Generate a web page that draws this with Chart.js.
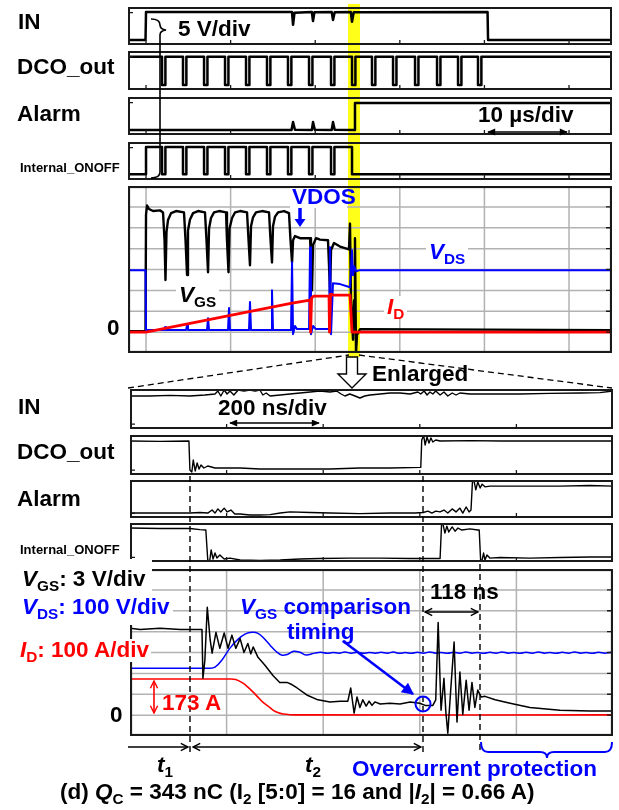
<!DOCTYPE html>
<html><head><meta charset="utf-8">
<script src="https://cdn.jsdelivr.net/npm/chart.js@4.4.1/dist/chart.umd.min.js"></script>
<style>
html,body{margin:0;padding:0;background:#fff;}
#page{position:relative;width:619px;height:810px;overflow:hidden;background:#fff;font-family:"Liberation Sans",Arial,Helvetica,sans-serif;}
#page canvas{position:absolute;z-index:1;}
.t{position:absolute;white-space:nowrap;line-height:1;font-weight:bold;font-size:22.5px;z-index:3;color:#000;}
.t i{font-style:italic;}
.t sub{font-size:0.68em;position:relative;top:0.3em;vertical-align:baseline;line-height:0;}
.bg{background:#fff;}
.blue{color:#0000ff;} .red{color:#ff0000;}
</style></head>
<body><div id="page">
<div style="position:absolute;left:348px;top:4px;width:12px;height:353px;background:#ffff1a;z-index:0"></div>
<div style="position:absolute;left:0;top:559px;width:152px;height:66px;background:#fff;z-index:2"></div>
<div style="position:absolute;left:290px;top:188px;width:57px;height:20px;background:#fff;z-index:2"></div>

<div class="t" style="left:18px;top:11px">IN</div>
<div class="t" style="left:17px;top:56px">DCO_out</div>
<div class="t" style="left:17px;top:103px">Alarm</div>
<div class="t" style="left:20px;top:161px;font-size:13px">Internal_ONOFF</div>
<div class="t" style="left:178px;top:18px">5 V/div</div>
<div class="t" style="left:478px;top:104px">10 µs/div</div>
<div class="t blue" style="left:292px;top:186px">VDOS</div>
<div class="t bg" style="left:176px;top:284px;padding:0 3px"><i>V</i><sub>GS</sub></div>
<div class="t bg blue" style="left:426px;top:241px;padding:0 3px"><i>V</i><sub>DS</sub></div>
<div class="t bg red" style="left:384px;top:296px;padding:0 3px"><i>I</i><sub>D</sub></div>
<div class="t" style="left:107px;top:317px">0</div>
<div class="t" style="left:372px;top:363px">Enlarged</div>

<div class="t" style="left:18px;top:396px">IN</div>
<div class="t" style="left:17px;top:441px">DCO_out</div>
<div class="t" style="left:17px;top:488px">Alarm</div>
<div class="t" style="left:20px;top:543px;font-size:13px">Internal_ONOFF</div>
<div class="t bg" style="left:218px;top:397px">200 ns/div</div>

<div class="t bg" style="left:22px;top:568px;padding-right:3px"><i>V</i><sub>GS</sub>: 3 V/div</div>
<div class="t bg blue" style="left:22px;top:596px;padding-right:3px"><i>V</i><sub>DS</sub>: 100 V/div</div>
<div class="t bg red" style="left:20px;top:639px;padding-right:2px"><i>I</i><sub>D</sub>: 100 A/div</div>
<div class="t" style="left:110px;top:704px">0</div>
<div class="t red" style="left:162px;top:692px">173 A</div>
<div class="t blue" style="left:240px;top:596px"><i>V</i><sub>GS</sub> comparison</div>
<div class="t blue" style="left:287px;top:621px">timing</div>
<div class="t" style="left:430px;top:581px">118 ns</div>
<div class="t" style="left:157px;top:754px"><i>t</i><sub>1</sub></div>
<div class="t" style="left:305px;top:754px"><i>t</i><sub>2</sub></div>
<div class="t blue" style="left:352px;top:758px">Overcurrent protection</div>
<div class="t" style="left:60px;top:781px">(d) <i>Q</i><sub>C</sub> = 343 nC (I<sub>2</sub> [5:0] = 16 and |<i>I</i><sub>2</sub>| = 0.66 A)</div>

<svg width="619" height="810" style="position:absolute;left:0;top:0;z-index:2" xmlns="http://www.w3.org/2000/svg">
<defs>
<marker id="fa" viewBox="0 0 10 10" refX="9" refY="5" markerWidth="9" markerHeight="8" markerUnits="userSpaceOnUse" orient="auto-start-reverse"><path d="M0,0.5 L10,5 L0,9.5 z" fill="#000"/></marker>
<marker id="ch" viewBox="0 0 10 10" refX="9" refY="5" markerWidth="9" markerHeight="10" markerUnits="userSpaceOnUse" orient="auto-start-reverse"><path d="M1,1 L9,5 L1,9" fill="none" stroke="#000" stroke-width="1.6"/></marker>
<marker id="chr" viewBox="0 0 10 10" refX="9" refY="5" markerWidth="9" markerHeight="10" markerUnits="userSpaceOnUse" orient="auto-start-reverse"><path d="M1,1 L9,5 L1,9" fill="none" stroke="#ff0000" stroke-width="1.6"/></marker>
<marker id="fb" viewBox="0 0 10 10" refX="9" refY="5" markerWidth="14" markerHeight="12" markerUnits="userSpaceOnUse" orient="auto"><path d="M0,0 L10,5 L0,10 z" fill="#0000ff"/></marker>
</defs>
<path d="M151,19 C157,19 160,21 160,25 C160,28 162,29.5 166,30 C162,30.5 160,32 160,35 L160,172 C160,176 157,178 151,178" fill="none" stroke="#000" stroke-width="1.6"/>
<line x1="488" y1="132" x2="567" y2="132" stroke="#000" stroke-width="1.6" marker-start="url(#fa)" marker-end="url(#fa)"/>
<line x1="300" y1="208" x2="300" y2="220" stroke="#0000ff" stroke-width="3.5"/>
<path d="M294.5,219 L305.5,219 L300,227 z" fill="#0000ff"/>
<line x1="128" y1="388" x2="349" y2="355" stroke="#000" stroke-width="1.3" stroke-dasharray="6,4"/>
<line x1="359" y1="355" x2="612" y2="388" stroke="#000" stroke-width="1.3" stroke-dasharray="6,4"/>
<path d="M346.5,357 L357.5,357 L357.5,374 L366,374 L352,388 L338,374 L346.5,374 z" fill="#fff" stroke="#000" stroke-width="1.4"/>
<line x1="230" y1="423" x2="319" y2="423" stroke="#000" stroke-width="1.6" marker-start="url(#fa)" marker-end="url(#fa)"/>
<line x1="190" y1="476" x2="190" y2="752" stroke="#000" stroke-width="1.4" stroke-dasharray="6,4"/>
<line x1="423" y1="476" x2="423" y2="752" stroke="#000" stroke-width="1.4" stroke-dasharray="6,4"/>
<line x1="480" y1="564" x2="480" y2="752" stroke="#000" stroke-width="1.4" stroke-dasharray="6,4"/>
<line x1="425" y1="612" x2="478" y2="612" stroke="#000" stroke-width="1.4" marker-start="url(#ch)" marker-end="url(#ch)"/>
<line x1="128" y1="747" x2="188" y2="747" stroke="#000" stroke-width="1.4" marker-end="url(#ch)"/>
<line x1="193" y1="747" x2="421" y2="747" stroke="#000" stroke-width="1.4" marker-start="url(#ch)" marker-end="url(#ch)"/>
<line x1="154" y1="681" x2="154" y2="713" stroke="#ff0000" stroke-width="1.6" marker-start="url(#chr)" marker-end="url(#chr)"/>
<line x1="343" y1="641" x2="413" y2="694" stroke="#0000ff" stroke-width="2.6" marker-end="url(#fb)"/>
<circle cx="423" cy="704" r="7.5" fill="none" stroke="#0000ff" stroke-width="2"/>
<path d="M481,742 Q481,752 488,752 L540,752 Q547,752 547,758 Q547,752 554,752 L605,752 Q612,752 612,742" fill="none" stroke="#0000ff" stroke-width="2"/>
</svg>
</div>
<script>
// ---------- time axes ----------
const topRangeUs = [-2.13, 55.08];      // 10 µs/div
const topGridUs = [0, 10, 20, 30, 40, 50];
const lowRangeNs = [0, 1000];           // 200 ns/div
const lowGridNs = [200, 400, 600, 800];
const analogGridV = [0, 3, 6, 9, 12, 15, 18]; // VGS 3 V/div
const vgsRange = [-3, 21];
const ampRange = [-100, 700];            // VDS 100 V/div, ID 100 A/div
const levelRange = [0, 1];

// ---------- upper (10 µs/div) logic traces ----------
const topIN = [[-2.13,.13],[-0.06,.13],[0,.87],[17.25,.87],[17.38,.53],[17.55,.85],[19.6,.87],[19.74,.63],[19.9,.86],[21.95,.87],[22.10,.66],[22.3,.86],[24.2,.87],[24.35,.61],[24.55,.86],[40.37,.87],[40.43,.13],[55.08,.13]];
const dcoFallUs = [1.89,4.37,6.86,9.34,11.82,14.30,16.78,19.27,21.87,24.35,26.71,29.20,31.80,34.40,36.88,39.24];
const dcoLowUs = 0.4;
const dcoLevels = {hi:.85, lo:.13};
const ionoffLevels = {hi:.87, lo:.15};
const ionoffRiseUs = 0, ionoffOffUs = 24.35;
const topALARM = [[-2.13,.13],[17.2,.13],[17.38,.34],[17.6,.14],[19.6,.13],[19.74,.34],[19.95,.14],[21.95,.13],[22.10,.34],[22.3,.14],[24.65,.13],[24.70,.84],[55.08,.84]];

// ---------- upper analog traces (µs ; V / V / A) ----------
const topVGS = [[-2.13,0.14],[-0.06,0.14],[0,16.9],[0.12,18.2],[0.35,17.7],[0.83,17.4],[1.65,17.5],[2.01,17.2],[2.19,13.2],[2.30,7.5],[2.42,14.4],[2.60,16.1],[2.96,17.1],[3.55,17.4],[4.49,17.2],[4.67,13.2],[4.85,8.2],[4.96,14.6],[5.20,16.2],[5.56,17.1],[6.15,17.4],[6.97,17.2],[7.15,13.2],[7.33,8.6],[7.45,14.9],[7.68,16.4],[8.04,17.2],[8.63,17.4],[9.46,17.2],[9.57,13.2],[9.75,8.6],[9.87,14.9],[10.17,16.4],[10.52,17.2],[11.11,17.4],[11.94,17.2],[12.12,13.2],[12.29,9.6],[12.41,15.2],[12.65,16.5],[13.00,17.2],[13.71,17.4],[14.54,17.2],[14.72,13.2],[14.89,10.0],[15.01,15.2],[15.25,16.6],[15.60,17.2],[16.31,17.4],[16.90,17.1],[17.08,13.2],[17.26,10.0],[17.38,13.2],[17.61,13.8],[18.20,13.5],[19.39,13.5],[19.50,10.3],[19.62,6.0],[19.74,12.5],[20.09,13.5],[20.57,13.3],[21.51,13.2],[21.63,9.6],[21.75,5.6],[21.87,11.8],[22.22,12.8],[22.93,12.3],[23.99,11.9],[24.11,15.6],[24.23,4.6],[24.47,-1.1],[24.59,4.6],[24.70,13.5],[24.82,-3.0],[24.94,-0.4],[25.30,0.43],[55.08,0.29]];
const topVDS = [[-2.13,297],[-0.06,297],[0,9.6],[2.13,9.6],[2.25,24],[2.36,9.6],[4.73,9.6],[4.85,33.5],[4.96,9.6],[7.21,9.6],[7.33,67],[7.45,9.6],[9.69,9.6],[9.81,115],[9.93,9.6],[12.17,9.6],[12.29,144],[12.41,9.6],[14.78,9.6],[14.89,201],[15.01,9.6],[17.14,9.6],[17.26,335],[17.38,-9.6],[17.61,29],[17.85,14.4],[19.27,14.4],[19.39,407],[19.50,-9.6],[19.74,29],[20.09,14.4],[21.63,14.4],[21.75,407],[21.87,-9.6],[22.10,234],[22.93,230],[24.11,215],[24.35,392],[24.47,273],[24.59,316],[24.82,292],[25.30,297],[55.08,297]];
const topID = [[-2.13,0],[0,0],[17.26,139],[19.39,153],[19.45,0],[19.57,163],[19.80,172],[21.63,172],[21.69,0],[21.81,182],[22.15,177],[24.11,177],[24.35,0],[55.08,0]];

// ---------- lower (200 ns/div) logic traces ----------
const lowIN = [[0,.825],[41,.825],[83,.84],[124,.825],[155,.85],[176,.875],[182,.95],[188,.825],[195,.975],[201,.875],[207,.95],[215,.85],[224,.975],[236,.95],[248,.975],[259,.95],[269,.975],[275,.85],[282,.9],[290,.825],[311,.85],[331,.875],[352,.9],[373,.925],[393,.95],[414,.925],[428,.95],[437,.875],[445,.825],[455,.875],[466,.825],[476,.775],[486,.825],[497,.85],[518,.875],[538,.9],[559,.9],[580,.875],[596,.925],[602,.875],[609,.95],[615,.85],[621,.925],[627,.875],[633,.95],[642,.85],[650,.925],[658,.825],[667,.9],[675,.85],[683,.9],[704,.875],[745,.875],[807,.875],[869,.89],[932,.9],[973,.91],[1000,.95]];
const lowDCO = [[0,.85],[62,.84],[122,.85],[124,.125],[128,.075],[131,.375],[135,.1],[139,.3],[143,.15],[147,.25],[153,.175],[161,.225],[176,.175],[228,.175],[269,.15],[311,.15],[352,.15],[414,.15],[476,.175],[538,.175],[602,.19],[604,.875],[608,.99],[611,.75],[615,.95],[619,.8],[623,.925],[627,.825],[633,.875],[642,.85],[704,.86],[766,.85],[828,.85],[890,.85],[952,.85],[1000,.85]];
const lowALARM = [[0,.13],[62,.13],[124,.13],[145,.145],[161,.13],[170,.21],[176,.13],[182,.24],[188,.16],[195,.26],[201,.16],[209,.21],[217,.105],[228,.105],[248,.08],[269,.08],[290,.09],[311,.13],[331,.16],[373,.145],[414,.13],[476,.115],[538,.13],[590,.13],[607,.145],[617,.18],[625,.13],[633,.18],[642,.16],[650,.21],[658,.13],[667,.24],[675,.16],[683,.26],[689,.13],[696,.29],[702,.16],[706,.21],[709,.95],[712,.99],[716,.74],[720,.95],[725,.79],[729,.89],[735,.82],[745,.84],[807,.84],[890,.84],[952,.855],[1000,.84]];
const lowIONOFF = [[0,.87],[62,.86],[124,.86],[145,.83],[157,.82],[161,.05],[165,.026],[168,.31],[172,.077],[176,.23],[180,.10],[186,.18],[195,.077],[207,.10],[228,.05],[269,.04],[311,.05],[352,.077],[393,.09],[455,.10],[518,.10],[580,.09],[642,.09],[645,.95],[648,.97],[652,.74],[656,.92],[660,.77],[667,.90],[673,.79],[679,.87],[687,.82],[704,.85],[720,.82],[723,.82],[726,.026],[729,.05],[732,.23],[735,.05],[739,.18],[745,.10],[766,.115],[828,.10],[890,.115],[952,.13],[1000,.13]];

// ---------- lower analog traces (ns ; V / V / A) ----------
const lowVGS = [[0,12.5],[21,12.3],[62,12.5],[104,12.3],[149,12.3],[151,5.3],[155,7.9],[160,15.5],[166,10.8],[170,8.9],[178,11.9],[186,9.6],[195,11.8],[203,9.6],[211,11.5],[219,9.6],[228,11.0],[236,9.0],[244,10.3],[250,8.8],[255,9.8],[265,8.3],[279,7.2],[296,5.7],[310,4.7],[325,4.7],[335,4.4],[346,3.9],[366,2.9],[389,2.2],[414,1.9],[435,2.0],[451,2.0],[457,3.9],[464,0.3],[470,2.6],[476,1.1],[482,2.2],[489,1.3],[495,2.0],[501,1.4],[507,1.9],[518,1.6],[538,1.7],[559,1.6],[580,1.9],[600,1.7],[611,1.4],[627,1.4],[633,2.2],[638,13.3],[644,0.7],[650,5.3],[654,0.4],[658,-2.6],[664,3.6],[671,10.5],[677,-1.0],[683,6.2],[689,0.1],[696,5.0],[702,0.7],[708,4.7],[714,1.1],[720,3.6],[727,2.6],[735,2.7],[756,2.2],[787,1.7],[828,1.1],[890,0.7],[952,0.6],[1000,0.6]];
const lowVDS = [[0,225],[166,225],[176,230],[190,263],[207,321],[224,364],[238,388],[253,397],[265,392],[277,368],[290,335],[302,306],[315,287],[327,292],[339,306],[352,301],[364,288],[383,297],[395,301],[408,296],[420,300],[433,297],[445,302],[458,297],[470,301],[483,296],[495,300],[508,297],[520,301],[533,297],[545,302],[558,296],[570,300],[583,296],[595,301],[608,297],[620,302],[633,297],[645,300],[658,296],[670,301],[683,297],[695,302],[708,297],[720,300],[733,296],[745,301],[758,297],[770,302],[783,297],[795,300],[808,296],[820,301],[833,297],[845,302],[858,297],[870,300],[883,296],[895,301],[908,297],[920,302],[933,297],[945,300],[958,296],[970,301],[983,297],[995,300],[1000,299]];
const lowID = [[0,173],[207,173],[219,171],[234,153],[244,134],[255,110],[265,86],[275,62],[286,43],[296,24],[306,12],[317,5],[331,2],[352,1],[1000,1]];

// ---------- helpers ----------
function pulseTrain(range, riseT, offT, falls, w, lv) {
  const p = [];
  if (riseT > range[0]) p.push([range[0], lv.lo], [riseT, lv.lo], [riseT, lv.hi]);
  else p.push([range[0], lv.hi]);
  for (const f of falls) { if (f >= offT) break; p.push([f, lv.hi], [f, lv.lo], [f + w, lv.lo], [f + w, lv.hi]); }
  if (offT < range[1]) p.push([offT, lv.hi], [offT, lv.lo], [range[1], lv.lo]);
  else p.push([range[1], lv.hi]);
  return p;
}
const xy = a => a.map(p => ({x: p[0], y: p[1]}));
function ds(arr, color, width, axis, tension) {
  return {data: xy(arr), borderColor: color, borderWidth: width, yAxisID: axis || 'y', pointRadius: 0, fill: false, tension: tension || 0, borderJoinStyle: 'round'};
}

const panelDeco = {
  id: 'panelDeco',
  beforeDatasetsDraw(chart, args, o) {
    const {ctx, chartArea: a, scales} = chart;
    ctx.save();
    if (o.gridX) {
      ctx.strokeStyle = '#b2b2b2'; ctx.lineWidth = 1.5;
      ctx.beginPath();
      for (const t of o.gridX) { const x = scales.x.getPixelForValue(t); ctx.moveTo(x, a.top); ctx.lineTo(x, a.bottom); }
      for (const v of o.gridY) { const y = scales[o.gridAxis].getPixelForValue(v); ctx.moveTo(a.left, y); ctx.lineTo(a.right, y); }
      ctx.stroke();
    }
    ctx.restore();
  },
  afterDatasetsDraw(chart, args, o) {
    const {ctx, chartArea: a, scales} = chart;
    ctx.save();
    ctx.strokeStyle = '#1a1a1a'; ctx.lineWidth = o.bw || 2;
    ctx.strokeRect(a.left + 1, a.top + 1, a.width - 2, a.height - 2);
    ctx.lineWidth = 1.3; ctx.beginPath();
    for (const t of (o.tickX || [])) { const x = scales.x.getPixelForValue(t); ctx.moveTo(x, a.bottom - 1); ctx.lineTo(x, a.bottom - 5); }
    for (const v of (o.tickY || [])) { const y = scales[o.gridAxis || 'y'].getPixelForValue(v); ctx.moveTo(a.right - 1, y); ctx.lineTo(a.right - 6, y); }
    if (o.marker != null) { const y = scales.y.getPixelForValue(o.marker); ctx.moveTo(a.left + 1, y); ctx.lineTo(a.left + 5, y); }
    ctx.stroke();
    ctx.restore();
  }
};

function panel(box, xr, yScales, datasets, deco) {
  const c = document.createElement('canvas');
  c.width = box[2] - box[0]; c.height = box[3] - box[1];
  c.style.left = box[0] + 'px'; c.style.top = box[1] + 'px';
  document.getElementById('page').appendChild(c);
  const scales = {x: {type: 'linear', display: false, min: xr[0], max: xr[1]}};
  for (const k in yScales) scales[k] = {type: 'linear', display: false, min: yScales[k][0], max: yScales[k][1]};
  return new Chart(c, {
    type: 'line',
    data: {datasets},
    options: {
      responsive: false, animation: false, devicePixelRatio: 1,
      layout: {padding: 0}, events: [],
      plugins: {legend: {display: false}, tooltip: {enabled: false}, panelDeco: deco},
      scales
    },
    plugins: [panelDeco]
  });
}

const topDCO = pulseTrain(topRangeUs, topRangeUs[0], Infinity, dcoFallUs, dcoLowUs, dcoLevels);
const topIONOFF = pulseTrain(topRangeUs, ionoffRiseUs, ionoffOffUs, dcoFallUs, dcoLowUs, ionoffLevels);

const lvl = {y: levelRange};
const topTicks = {tickX: topGridUs, marker: 0.85};
panel([128, 7, 612, 45], topRangeUs, lvl, [ds(topIN, '#000', 2.5)], topTicks);
panel([128, 51, 612, 90], topRangeUs, lvl, [ds(topDCO, '#000', 2.5)], topTicks);
panel([128, 97, 612, 135], topRangeUs, lvl, [ds(topALARM, '#000', 2.5)], topTicks);
panel([128, 142, 612, 180], topRangeUs, lvl, [ds(topIONOFF, '#000', 2.5)], topTicks);
panel([128, 186, 612, 353], topRangeUs, {yV: vgsRange, yA: ampRange},
  [ds(topID, '#ff0000', 2.8, 'yA'), ds(topVDS, '#0000ff', 2, 'yA'), ds(topVGS, '#000', 2.4, 'yV')],
  {gridX: topGridUs, gridY: analogGridV, gridAxis: 'yV', tickY: analogGridV, bw: 2.2});

const lowTicks = {tickX: lowGridNs, marker: 0.12};
panel([130, 389, 613, 429], lowRangeNs, lvl, [ds(lowIN, '#000', 1.4)], lowTicks);
panel([130, 435, 613, 475], lowRangeNs, lvl, [ds(lowDCO, '#000', 1.4)], lowTicks);
panel([130, 480, 613, 518], lowRangeNs, lvl, [ds(lowALARM, '#000', 1.4)], lowTicks);
panel([130, 523, 613, 562], lowRangeNs, lvl, [ds(lowIONOFF, '#000', 1.4)], lowTicks);
panel([130, 569, 613, 736], lowRangeNs, {yV: vgsRange, yA: ampRange},
  [ds(lowVGS, '#000', 1.5, 'yV'), ds(lowID, '#ff0000', 1.6, 'yA', 0.3), ds(lowVDS, '#0000ff', 1.5, 'yA', 0.4)],
  {gridX: lowGridNs, gridY: analogGridV, gridAxis: 'yV', tickY: analogGridV, bw: 2.2});
</script>
</body></html>
